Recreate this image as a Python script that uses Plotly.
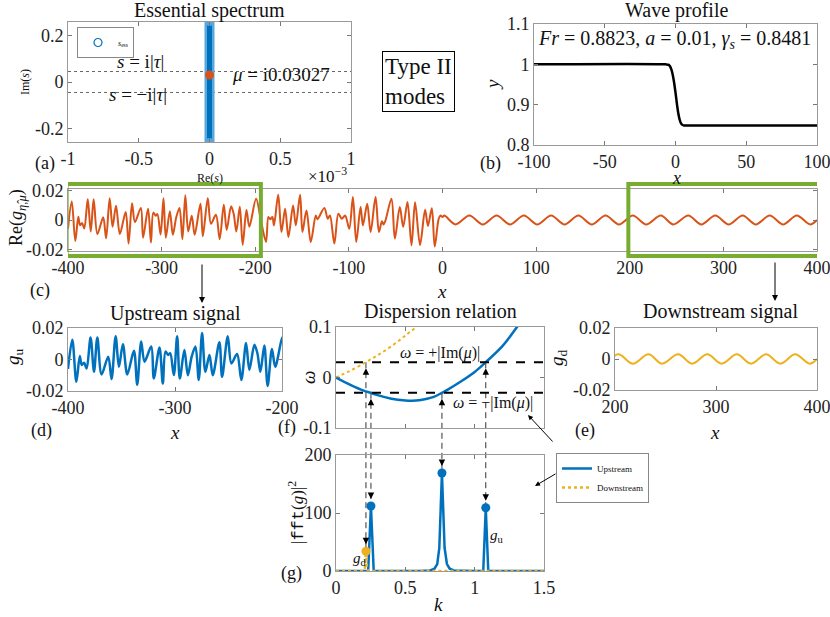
import plotly.graph_objects as go

# ---------------- data ----------------
IM_MU = 0.03027          # |Im(mu)|
TAU = 0.045              # |tau| (dotted lines in (a))
SESS_IM = [-0.26, 0.26]  # extent of essential spectrum on imaginary axis
SESS_RE = [0, 0]

PROF_X = [-100, -7, -5, -4, -3, -2, -1, 0, 1, 2, 3, 4, 5, 6, 8, 100]
PROF_Y = [1.0, 1.0, 0.999, 0.996, 0.988, 0.975, 0.955, 0.93, 0.902, 0.878, 0.862, 0.853, 0.8495, 0.8484, 0.8481, 0.8481]

UP_X = [-400, -396, -392.2, -389, -387.2, -385, -382.6, -378.9, -375.7, -372.6, -368.6, -362.4, -359.3,
        -355.5, -352.4, -348.7, -344.6, -338.4, -335.3, -331.6, -328.5, -322.2, -319.8, -314.5, -311.4,
        -308.9, -306.4, -304.5, -301.1, -298, -295.5, -291.2, -288, -284.5, -280.9, -277.8, -274.7,
        -271.6, -267.8, -264.7, -258.5, -256, -250.7, -247.3, -242, -238, -233.6, -230.5, -225.8, -223,
        -220.2, -216.5, -213.4, -209.4, -206.3, -199.1, -194, -188.5, -186, -184, -181.7, -180, -175.5,
        -172, -168.1, -164.6, -159.6, -156.7, -152.1, -149.6, -145.3, -140.7, -135.4, -133.6, -126.2,
        -122.6, -120.2, -115.5, -111.2, -107.6, -104, -99.6, -95.7, -92.1, -87.5, -85, -80.4, -76.8,
        -71.5, -67.9, -64.7, -63, -61, -54.5, -50.9, -45.6, -42, -37.4, -33.1, -29.3, -24, -18.6,
        -15.5, -11.4, -8.3, -4, -2, 0]
UP_Y = [-0.006, 0.0125, -0.0142, 0.0022, -0.0035, -0.002, -0.0057, 0.014, -0.0078, 0.014, -0.0095, 0.0018,
        -0.0125, 0.0147, -0.0046, 0.0097, -0.0095, 0.0055, -0.016, 0.0114, -0.0014, 0.0082, -0.012,
        0.0076, -0.0153, 0.005, 0.0029, 0.004, -0.0099, 0.0147, -0.012, 0.006, -0.01, 0.0015, 0.0082,
        -0.013, 0.0168, -0.0078, 0.0029, -0.01, 0.011, -0.011, 0.0147, -0.0025, 0.0035, -0.013, 0.0104,
        -0.0067, 0.0093, 0.004, -0.0078, 0.0089, -0.0168, 0.0067, -0.0046, 0.0144, 0.0, -0.0149, 0.002,
        0.0005, 0.002, -0.0036, 0.0171, -0.0081, 0.0077, -0.0115, 0.0099, -0.0036, 0.0171, -0.0081,
        0.0065, -0.0149, 0.0031, 0.0005, 0.0081, 0.0009, 0.0031, -0.016, 0.0043, 0.0009, 0.003, -0.0059,
        0.0155, -0.0149, 0.0088, -0.0036, 0.011, -0.0081, 0.0155, -0.0081, -0.0009, -0.003, -0.0005,
        0.0144, -0.0126, 0.0088, -0.0047, 0.0122, -0.0171, 0.012, -0.017, 0.007, -0.004, 0.008, -0.018,
        0.001, 0.003, 0.002]

DN_X = [0, 2, 13.9, 28.7, 43.0, 57.8, 72.1, 86.9, 101.2, 116.0, 130.3, 145.1, 159.4, 174.2, 188.5,
        203.3, 217.6, 233.2, 246.5, 262.5, 276.4, 291.4, 305.6, 320.6, 334.6, 349.5, 363.8, 378.4, 392.7, 400]
DN_Y = [0.002, 0.003, -0.003, 0.003, -0.003, 0.003, -0.003, 0.003, -0.003, 0.003, -0.003, 0.003, -0.003,
        0.003, -0.003, 0.003, -0.003, 0.003, -0.003, 0.003, -0.003, 0.003, -0.003, 0.003, -0.003, 0.003,
        -0.003, 0.003, -0.003, 0.0]

DISP_K_UP = [0, 0.1, 0.2, 0.25, 0.3, 0.4, 0.5, 0.55, 0.6, 0.7, 0.764, 0.8, 0.9, 1.0, 1.08, 1.2, 1.3, 1.32]
DISP_W_UP = [0, -0.014, -0.026, -0.0303, -0.035, -0.042, -0.0455, -0.046, -0.045, -0.039, -0.0303,
             -0.025, -0.008, 0.011, 0.0303, 0.062, 0.098, 0.106]
DISP_K_DN = [0, 0.1, 0.216, 0.3, 0.4, 0.5, 0.58]
DISP_W_DN = [0, 0.013, 0.0303, 0.044, 0.062, 0.083, 0.100]

FFT_K_UP = [0, 0.232, 0.252, 0.272, 0.6, 0.68, 0.71, 0.73, 0.745, 0.764, 0.783, 0.80, 0.82, 0.85, 1.0,
            1.062, 1.08, 1.098, 1.5]
FFT_P_UP = [0, 0, 112, 0, 0, 1, 4, 12, 40, 169, 40, 12, 4, 1, 0, 0, 109, 0, 0]
FFT_K_DN = [0, 0.198, 0.208, 0.216, 0.224, 0.234, 1.5]
FFT_P_DN = [0, 0, 3, 34, 3, 0, 0]

PEAK_K_UP = [0.252, 0.764, 1.08]
PEAK_P_UP = [112, 169, 109]
PEAK_K_DN = [0.216]
PEAK_P_DN = [34]

# links between dispersion (f) and spectrum (g)
LINK_K = [0.216, 0.252, 0.764, 1.08]
LINK_W = [IM_MU, -IM_MU, -IM_MU, IM_MU]
LINK_P = [34, 112, 169, 109]

UP_WIN = [-400, -200]
DN_WIN = [200, 400]

# ---------------- style ----------------
BLUE = '#0072BD'
ORANGE = '#D95319'
YELLOW = '#EDB120'
GREEN = '#77AC30'
FONT = 'Liberation Serif'
TICKF = dict(family=FONT, size=18, color='#222')
W, H = 830, 617


def fx(p):
    return p / W


def fy(p):
    return 1 - p / H


fig = go.Figure()

# domains (pixels -> paper)
DOM = {
    1: ((68, 351), (22, 142)),
    2: ((534, 817), (24, 145)),
    3: ((68, 817), (189, 251)),
    4: ((68, 282), (328, 391)),
    5: ((615, 817), (328, 390)),
    6: ((336, 544), (327, 428)),
    7: ((336, 544), (455, 571)),
}


def axis_pair(i, xr, yr, xt, xtt, yt, ytt, showx=True):
    (x0, x1), (y0, y1) = DOM[i]
    s = '' if i == 1 else str(i)
    common = dict(showline=True, linecolor='#9a9a9a', linewidth=1, mirror='ticks', ticks='inside',
                  ticklen=4, tickcolor='#777', showgrid=False, zeroline=False, tickfont=TICKF,
                  ticklabeloverflow='allow')
    fig.layout['xaxis' + s] = dict(domain=[fx(x0), fx(x1)], range=xr, anchor='y' + s, tickvals=xt,
                                   ticktext=xtt, showticklabels=showx, **common)
    fig.layout['yaxis' + s] = dict(domain=[fy(y1), fy(y0)], range=yr, anchor='x' + s, tickvals=yt,
                                   ticktext=ytt, **common)


axis_pair(1, [-1, 1], [-0.258, 0.258], [-1, -0.5, 0, 0.5, 1], ['-1', '-0.5', '0', '0.5', '1'],
          [-0.2, 0, 0.2], ['-0.2', '0', '0.2'])
axis_pair(2, [-100, 100], [0.8, 1.1], [-100, -50, 0, 50, 100], ['-100', '-50', '0', '50', '100'],
          [0.8, 0.9, 1, 1.1], ['0.8', '0.9', '1', '1.1'])
axis_pair(3, [-400, 400], [-0.021, 0.021], list(range(-400, 401, 100)),
          ['-400', '-300', '-200', '-100', '0', '100', '200', '300', '400'],
          [-0.02, 0, 0.02], ['-0.02', '0', '0.02'])
axis_pair(4, UP_WIN, [-0.02, 0.02], [-400, -300, -200], ['-400', '-300', '-200'],
          [-0.02, 0, 0.02], ['-0.02', '0', '0.02'])
axis_pair(5, DN_WIN, [-0.02, 0.02], [200, 300, 400], ['200', '300', '400'],
          [-0.02, 0, 0.02], ['-0.02', '0', '0.02'])
axis_pair(6, [0, 1.5], [-0.1, 0.1], [0, 0.5, 1, 1.5], ['0', '0.5', '1', '1.5'],
          [-0.1, 0, 0.1], ['-0.1', '0', '0.1'], showx=False)
axis_pair(7, [0, 1.5], [0, 200], [0, 0.5, 1, 1.5], ['0', '0.5', '1', '1.5'],
          [0, 100, 200], ['0', '100', '200'])

# ---- (a) essential spectrum ----
for yv in (TAU, -TAU):
    fig.add_trace(go.Scatter(x=[-1, 1], y=[yv, yv], mode='lines', line=dict(color='#666', width=1, dash='dot'),
                             showlegend=False, xaxis='x', yaxis='y', hoverinfo='skip'))
fig.add_trace(go.Scatter(x=SESS_RE, y=SESS_IM, mode='lines', line=dict(color='#5aa7dd', width=10),
                         showlegend=False, xaxis='x', yaxis='y'))
fig.add_trace(go.Scatter(x=SESS_RE, y=SESS_IM, mode='lines+markers', line=dict(color=BLUE, width=5),
                         marker=dict(color='#5aa7dd', size=9), showlegend=False, xaxis='x', yaxis='y'))
fig.add_trace(go.Scatter(x=[None], y=[None], mode='markers', name='<i>s</i><sub>ess</sub>',
                         marker=dict(symbol='circle-open', color=BLUE, size=8, line=dict(width=1.2)),
                         legend='legend2', xaxis='x', yaxis='y'))
fig.add_trace(go.Scatter(x=[0], y=[IM_MU], mode='markers', marker=dict(color=ORANGE, size=9),
                         showlegend=False, xaxis='x', yaxis='y'))

# ---- (b) profile ----
fig.add_trace(go.Scatter(x=PROF_X, y=PROF_Y, mode='lines', line=dict(color='black', width=2.5, shape='spline'),
                         showlegend=False, xaxis='x2', yaxis='y2'))

# ---- (c) full signal ----
fig.add_trace(go.Scatter(x=UP_X + DN_X[1:], y=UP_Y + DN_Y[1:], mode='lines',
                         line=dict(color=ORANGE, width=2, shape='spline', smoothing=0.9),
                         showlegend=False, xaxis='x3', yaxis='y3'))

# ---- (d) upstream ----
fig.add_trace(go.Scatter(x=UP_X, y=UP_Y, mode='lines', line=dict(color=BLUE, width=2.5, shape='spline', smoothing=0.9),
                         showlegend=False, xaxis='x4', yaxis='y4'))
# ---- (e) downstream ----
fig.add_trace(go.Scatter(x=DN_X, y=DN_Y, mode='lines', line=dict(color=YELLOW, width=2, shape='spline'),
                         showlegend=False, xaxis='x5', yaxis='y5'))

# ---- (f) dispersion ----
fig.add_trace(go.Scatter(x=DISP_K_DN, y=DISP_W_DN, mode='lines', line=dict(color=YELLOW, width=2, dash='dot', shape='spline'),
                         showlegend=False, xaxis='x6', yaxis='y6'))
fig.add_trace(go.Scatter(x=DISP_K_UP, y=DISP_W_UP, mode='lines', line=dict(color=BLUE, width=2.5, shape='spline'),
                         showlegend=False, xaxis='x6', yaxis='y6'))
for wv in (IM_MU, -IM_MU):
    fig.add_trace(go.Scatter(x=[0, 1.5], y=[wv, wv], mode='lines', line=dict(color='black', width=2, dash='dash'),
                             showlegend=False, xaxis='x6', yaxis='y6'))

# ---- (g) spectrum ----
fig.add_trace(go.Scatter(x=FFT_K_UP, y=FFT_P_UP, mode='lines', name='Upstream', line=dict(color=BLUE, width=2.5),
                         xaxis='x7', yaxis='y7', legend='legend'))
fig.add_trace(go.Scatter(x=FFT_K_DN, y=FFT_P_DN, mode='lines', name='Downstream',
                         line=dict(color=YELLOW, width=2.5, dash='dot'), xaxis='x7', yaxis='y7', legend='legend'))
fig.add_trace(go.Scatter(x=PEAK_K_UP, y=PEAK_P_UP, mode='markers', marker=dict(color=BLUE, size=9),
                         showlegend=False, xaxis='x7', yaxis='y7'))
fig.add_trace(go.Scatter(x=PEAK_K_DN, y=PEAK_P_DN, mode='markers', marker=dict(color=YELLOW, size=9),
                         showlegend=False, xaxis='x7', yaxis='y7'))

# ---------------- shapes ----------------
shapes = []
(cx0, cx1), (cy0, cy1) = DOM[3]
for win in (UP_WIN, DN_WIN):
    shapes.append(dict(type='rect', xref='x3', yref='paper', x0=win[0] - 1.5, x1=win[1] + 6 * (1 if win[0] < 0 else 0.4),
                       y0=fy(cy1 + 5), y1=fy(cy0 - 5), line=dict(color=GREEN, width=4)))
(fx0, fx1), (fy0_, fy1_) = DOM[6]
(gx0, gx1), (gy0, gy1) = DOM[7]


def paper_f(w):
    return fy(fy1_) + (w + 0.1) / 0.2 * (fy(fy0_) - fy(fy1_))


def paper_g(p):
    return fy(gy1) + p / 200 * (fy(gy0) - fy(gy1))


for k, w, p in zip(LINK_K, LINK_W, LINK_P):
    shapes.append(dict(type='line', xref='x6', yref='paper', x0=k, x1=k, y0=paper_f(w), y1=paper_g(p),
                       layer='below', line=dict(color='#333', width=1, dash='6px,4px')))
fig.update_layout(shapes=shapes)

# ---------------- annotations ----------------
ann = []


def txt(x, y, s, size=17, **kw):
    d = dict(x=fx(x), y=fy(y), xref='paper', yref='paper', text=s, showarrow=False,
             xanchor='center', yanchor='middle',
             font=dict(family=FONT, size=size, color='#111'))
    d.update(kw)
    ann.append(d)


# titles
txt(210, 11, 'Essential spectrum', 20)
txt(676, 11, 'Wave profile', 20)
txt(175, 313, 'Upstream signal', 20)
txt(440, 311, 'Dispersion relation', 20)
txt(720, 312, 'Downstream signal', 20)
# axis titles
txt(25, 82, 'Im(<i>s</i>)', 12, textangle=-90)
txt(210, 178, 'Re(<i>s</i>)', 12)
txt(492, 85, '<i>y</i>', 19, textangle=-90)
txt(676, 178, '<i>x</i>', 18)
txt(17, 218, 'Re(<i>g</i><sub><i>η̂</i>,<i>μ</i></sub>)', 18, textangle=-90)
txt(442, 291, '<i>x</i>', 19)
txt(327, 175, '×10<sup>−3</sup>', 17)
txt(14, 357, '<i>g</i><sub>u</sub>', 19, textangle=-90)
txt(175, 432, '<i>x</i>', 19)
txt(558, 358, '<i>g</i><sub>d</sub>', 19, textangle=-90)
txt(715, 432, '<i>x</i>', 19)
txt(308, 378, '<i>ω</i>', 19, textangle=-90)
txt(296, 513, "|<span style='font-family:Liberation Mono'>fft</span>(<i>g</i>)|<sup>2</sup>", 17, textangle=-90)
txt(438, 604, '<i>k</i>', 19)
# panel labels
txt(45, 163, '(a)', 18)
txt(490, 163, '(b)', 18)
txt(40, 290, '(c)', 18)
txt(41, 430, '(d)', 18)
txt(287, 427, '(f)', 18)
txt(585, 430, '(e)', 18)
txt(291, 573, '(g)', 18)
# in-plot texts
txt(140, 61, '<i>s</i> = i|<i>τ</i>|', 19)
txt(138, 95, '<i>s</i> = −i|<i>τ</i>|', 19)
txt(281, 74, '<i>μ</i> = i0.03027', 19)
txt(418, 82, 'Type II<br>modes', 23, align='left', bordercolor='black', borderwidth=1, borderpad=2, bgcolor='white')
txt(674, 40, '<i>Fr</i> = 0.8823, <i>a</i> = 0.01, <i>γ<sub>s</sub></i> = 0.8481', 20)
txt(440, 353, '<i>ω</i> = +|Im(<i>μ</i>)|', 16)
txt(493, 403, '<i>ω</i> = −|Im(<i>μ</i>)|', 16)
txt(360, 559, '<i>g</i><sub>d</sub>', 15)
txt(497, 536, '<i>g</i><sub>u</sub>', 15)

# arrows (c)->(d), (c)->(e)
for (x, ytip) in ((202, 303), (775, 301)):
    ann.append(dict(x=fx(x), y=fy(ytip), xref='paper', yref='paper', ax=0, ay=-40, text='', showarrow=True,
                    arrowhead=2, arrowsize=1.2, arrowwidth=1, arrowcolor='black'))
# pointer arrows to legend
ann.append(dict(x=fx(528), y=fy(415), xref='paper', yref='paper', ax=26, ay=28, text='', showarrow=True,
                arrowhead=2, arrowsize=1, arrowwidth=1, arrowcolor='black'))
ann.append(dict(x=fx(535), y=fy(486), xref='paper', yref='paper', ax=22, ay=-13, text='', showarrow=True,
                arrowhead=2, arrowsize=1, arrowwidth=1, arrowcolor='black'))
# arrowheads on link lines
for k, w, p in zip(LINK_K, LINK_W, LINK_P):
    ann.append(dict(x=k, y=w, xref='x6', yref='y6', ax=0, ay=12, standoff=6, text='', showarrow=True,
                    arrowhead=2, arrowsize=1.3, arrowwidth=1, arrowcolor='black'))
    ann.append(dict(x=k, y=p, xref='x7', yref='y7', ax=0, ay=-12, standoff=7, text='', showarrow=True,
                    arrowhead=2, arrowsize=1.3, arrowwidth=1, arrowcolor='black'))

fig.update_layout(
    annotations=ann,
    width=W, height=H, margin=dict(l=0, r=0, t=0, b=0, autoexpand=False),
    paper_bgcolor='white', plot_bgcolor='white',
    font=dict(family=FONT, color='#111'),
    showlegend=True,
    legend=dict(x=fx(556), y=fy(453), xanchor='left', yanchor='top', bgcolor='white', bordercolor='#888',
                borderwidth=1, font=dict(family=FONT, size=9), itemwidth=30, tracegroupgap=0),
    legend2=dict(x=fx(77), y=fy(27), xanchor='left', yanchor='top', bgcolor='white', bordercolor='#888',
                 borderwidth=1, font=dict(family=FONT, size=8), itemwidth=30),
)

fig.write_html('out.html', config={'displayModeBar': False},
               post_script="document.body.style.margin='0';")
